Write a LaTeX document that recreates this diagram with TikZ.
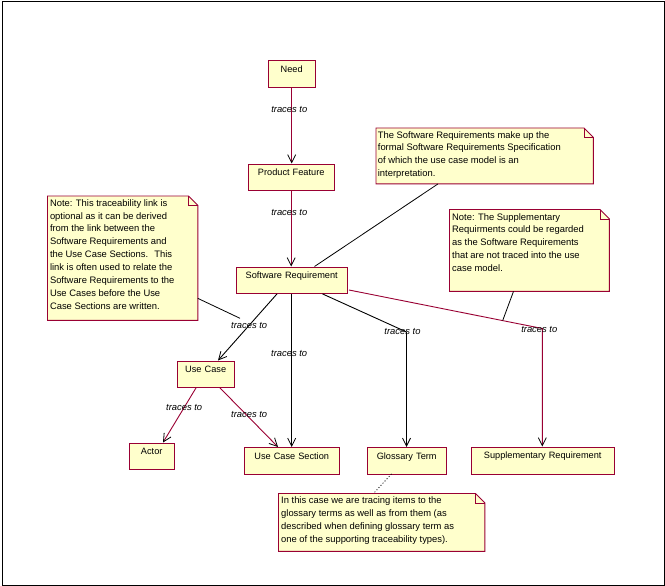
\documentclass[tikz,border=0pt]{standalone}
\usepackage{fontspec}
\setmainfont{Liberation Sans}
\usetikzlibrary{arrows.meta,calc}
\definecolor{umlred}{HTML}{990033}
\definecolor{umlfill}{HTML}{FFFFCC}
\begin{document}
\begin{tikzpicture}[x=1pt,y=-1pt,
  cls/.style={draw=umlred,fill=umlfill,line width=0.9pt,inner xsep=0pt,inner ysep=0pt,
     font=\fontsize{9.2}{11}\selectfont,text height=11.8pt,anchor=north west},
  notebg/.style={draw=none,inner sep=0pt,anchor=north west},
  noteshape/.style={draw=umlred,fill=umlfill,line width=0.9pt},
  notefold/.style={draw=umlred,line width=0.6pt},
  notetext/.style={anchor=north west,inner sep=0pt,align=left,
     font=\fontsize{9.4}{12.85}\selectfont},
  trace/.style={line width=0.9pt,-{Straight Barb[length=8pt,width=8pt,color=black,line width=0.8pt]}},
  redtrace/.style={trace,draw=umlred},
  blktrace/.style={trace,draw=black},
  lbl/.style={font=\fontsize{9.4}{11}\selectfont\itshape,inner sep=0pt},
  anchorline/.style={draw=black,line width=0.8pt}
]
\useasboundingbox (0,0) rectangle (665,586);
\node[draw=black,line width=1pt,minimum width=662.5pt,minimum height=583pt,inner sep=0pt,anchor=north west] (frame) at (1.5,1.5) {};

% classes
\newcommand{\clsbox}[6]{\node[cls,minimum width=#4pt,minimum height=#5pt,text depth=#5pt-11.8pt,text width=#4pt,align=center] (#1) at (#2,#3) {#6};}
\clsbox{need}{268}{60.5}{46.5}{26.5}{Need}
\clsbox{pf}{247.5}{163.5}{86.5}{26.5}{Product Feature}
\clsbox{sr}{235.5}{266.5}{111.5}{26.5}{Software Requirement}
\clsbox{uc}{176.5}{360.5}{57.5}{26.5}{Use Case}
\clsbox{actor}{128.5}{442.5}{45.5}{26.5}{Actor}
\clsbox{ucs}{243.5}{447}{95.5}{27}{Use Case Section}
\clsbox{gt}{366.5}{447}{79.5}{27}{Glossary Term}
\clsbox{supp}{470.5}{446.5}{143.5}{27.5}{Supplementary Requirement}

% notes
\newcommand{\notebox}[5]{%
  \node[notebg,minimum width=#4pt,minimum height=#5pt] (#1) at (#2,#3) {};
  \path[noteshape] (#1.north west) -- ([xshift=-9.5pt]#1.north east) -- ([yshift=-9.5pt]#1.north east) -- (#1.south east) -- (#1.south west) -- cycle;
  \path[notefold] ([xshift=-9.5pt]#1.north east) -- ([xshift=-9.5pt,yshift=-9.5pt]#1.north east) -- ([yshift=-9.5pt]#1.north east);}
\notebox{ntop}{376}{128}{217}{55.5}
\notebox{nsupp}{449.5}{209.5}{159.5}{81.5}
\notebox{nleft}{47.5}{196}{150}{124}
\notebox{nbot}{278.5}{493.5}{206}{57.5}

\node[notetext] (ttop) at (377.7,131.1) {The Software Requirements make up the\\formal Software Requirements Specification\\of which the use case model is an\\interpretation.};
\node[notetext] (tsupp) at (452,213.1) {Note: The Supplementary\\Requirments could be regarded\\as the Software Requirements\\that are not traced into the use\\case model.};
\node[notetext] (tleft) at (49.8,199.2) {Note: This traceability link is\\optional as it can be derived\\from the link between the\\Software Requirements and\\the Use Case Sections.~ This\\link is often used to relate the\\Software Requirements to the\\Use Cases before the Use\\Case Sections are written.};
\node[notetext] (tbot) at (281,496.8) {In this case we are tracing items to the\\glossary terms as well as from them (as\\described when defining glossary term as\\one of the supporting traceability types).};

% connectors
\coordinate (gtbend) at (406.5,332);
\coordinate (suppbend) at (542.3,328.5);
\coordinate (srsuppstart) at (349,290);
\coordinate (lnk) at (240,318.3);
\coordinate (supplnk) at ($(srsuppstart)!0.795!(suppbend)$);

\draw[redtrace] (need.south) -- (need.south |- pf.north);
\draw[redtrace] (pf.south) -- (pf.south |- sr.north);
\draw[blktrace] ([xshift=41.5pt]sr.south west) -- ([xshift=41.5pt]uc.north west);
\draw[blktrace] (sr.south) -- (sr.south |- ucs.north);
\draw[blktrace] ([xshift=87pt]sr.south west) -- (gtbend) -- (gt.north -| gtbend);
\draw[redtrace] (srsuppstart) -- (suppbend) -- (supp.north -| suppbend);
\draw[redtrace] ([xshift=19.5pt]uc.south west) -- ([xshift=34.5pt]actor.north west);
\draw[redtrace] ([xshift=43.5pt]uc.south west) -- ([xshift=34.5pt]ucs.north west);

% note anchors
\draw[anchorline] ([xshift=62pt]ntop.south west) -- ([xshift=79pt]sr.north west);
\draw[anchorline] ([yshift=22pt]nleft.south east) -- (lnk);
\draw[anchorline] ([xshift=64pt]nsupp.south west) -- (supplnk);
\draw[anchorline,dash pattern=on 1pt off 2pt] ([xshift=25pt,yshift=1pt]gt.south west) -- ([xshift=95pt]nbot.north west);

% labels
\node[lbl] (l1) at (289.3,110) {traces to};
\node[lbl] (l2) at (289.3,213) {traces to};
\node[lbl] (l3) at (249.2,325.7) {traces to};
\node[lbl] (l4) at (289.2,353.7) {traces to};
\node[lbl] (l5) at (402.5,331.7) {traces to};
\node[lbl] (l6) at (539.3,329.3) {traces to};
\node[lbl] (l7) at (184.2,407.7) {traces to};
\node[lbl] (l8) at (249.2,415) {traces to};
\end{tikzpicture}
\end{document}
